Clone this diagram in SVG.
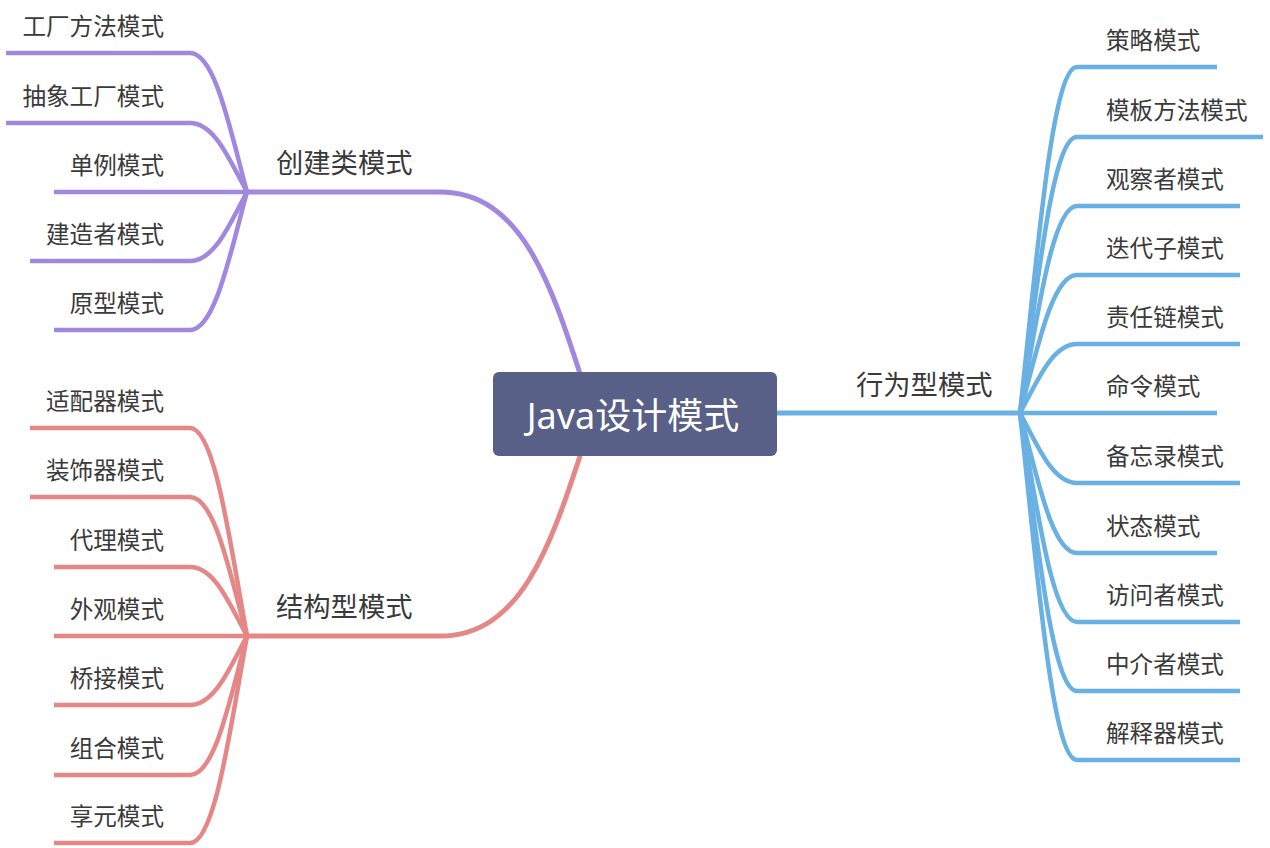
<svg xmlns="http://www.w3.org/2000/svg" width="1270" height="848" viewBox="0 0 1270 848">
<style>
.t{font-family:"Noto Sans CJK SC","Noto Sans",sans-serif;fill:#3a3a3a;font-size:23.6px}
.b{font-family:"Noto Sans CJK SC","Noto Sans",sans-serif;fill:#3a3a3a;font-size:27.3px}
.c{font-family:"Noto Sans","Noto Sans CJK SC",sans-serif;fill:#fff;font-size:36px}
.l{fill:none;stroke-width:4.5;stroke-linecap:butt}
.p{stroke:#a287e0}.r{stroke:#e58787}.u{stroke:#69b0e3}
.e{text-anchor:end}
</style>
<g id="connectors">
<path class="l p" style="stroke-width:5" d="M582 380 C550 280 520 192 440 192 L247 192"/>
<path class="l r" style="stroke-width:5" d="M582 450 C550 548 520 636 440 636 L247 636"/>
<path class="l u" style="stroke-width:5" d="M770 413 L1020 413"/>
<path class="l p" d="M247 192 C230 129 215 53 190 53 L6 53"/>
<path class="l p" d="M247 192 C230 161 215 123 190 123 L6 123"/>
<path class="l p" d="M247 192 L54 192"/>
<path class="l p" d="M247 192 C230 223 215 261 190 261 L30 261"/>
<path class="l p" d="M247 192 C230 254 215 330 190 330 L54 330"/>
<path class="l r" d="M247 636 C230 543 215 428 190 428 L30 428"/>
<path class="l r" d="M247 636 C230 574 215 497 190 497 L30 497"/>
<path class="l r" d="M247 636 C230 605 215 567 190 567 L54 567"/>
<path class="l r" d="M247 636 L54 636"/>
<path class="l r" d="M247 636 C230 667 215 705 190 705 L54 705"/>
<path class="l r" d="M247 636 C230 699 215 775 190 775 L54 775"/>
<path class="l r" d="M247 636 C230 730 215 843 190 843 L54 843"/>
<path class="l u" d="M1020 413 C1037 257 1052 67 1077 67 L1217 67"/>
<path class="l u" d="M1020 413 C1037 288 1052 137 1077 137 L1263 137"/>
<path class="l u" d="M1020 413 C1037 319 1052 206 1077 206 L1240 206"/>
<path class="l u" d="M1020 413 C1037 350 1052 275 1077 275 L1240 275"/>
<path class="l u" d="M1020 413 C1037 382 1052 344 1077 344 L1240 344"/>
<path class="l u" d="M1020 413 L1217 413"/>
<path class="l u" d="M1020 413 C1037 444 1052 483 1077 483 L1240 483"/>
<path class="l u" d="M1020 413 C1037 476 1052 553 1077 553 L1217 553"/>
<path class="l u" d="M1020 413 C1037 506 1052 622 1077 622 L1240 622"/>
<path class="l u" d="M1020 413 C1037 537 1052 691 1077 691 L1240 691"/>
<path class="l u" d="M1020 413 C1037 568 1052 760 1077 760 L1240 760"/>
</g>
<g id="root">
<rect x="493" y="372" width="284" height="84" rx="6" fill="#596087"/>
<text class="c" x="633" y="429" text-anchor="middle">Java设计模式</text>
</g>
<g id="creational"><text class="b" x="276" y="173">创建类模式</text></g>
<g id="structural"><text class="b" x="276" y="617">结构型模式</text></g>
<g id="behavioral"><text class="b" x="856" y="395">行为型模式</text></g>
<g id="n-factory-method"><text class="t e" x="164" y="35">工厂方法模式</text></g>
<g id="n-abstract-factory"><text class="t e" x="164" y="105">抽象工厂模式</text></g>
<g id="n-singleton"><text class="t e" x="164" y="174">单例模式</text></g>
<g id="n-builder"><text class="t e" x="164" y="243">建造者模式</text></g>
<g id="n-prototype"><text class="t e" x="164" y="312">原型模式</text></g>
<g id="n-adapter"><text class="t e" x="164" y="410">适配器模式</text></g>
<g id="n-decorator"><text class="t e" x="164" y="479">装饰器模式</text></g>
<g id="n-proxy"><text class="t e" x="164" y="549">代理模式</text></g>
<g id="n-facade"><text class="t e" x="164" y="618">外观模式</text></g>
<g id="n-bridge"><text class="t e" x="164" y="687">桥接模式</text></g>
<g id="n-composite"><text class="t e" x="164" y="757">组合模式</text></g>
<g id="n-flyweight"><text class="t e" x="164" y="825">享元模式</text></g>
<g id="n-strategy"><text class="t" x="1106" y="49">策略模式</text></g>
<g id="n-template"><text class="t" x="1106" y="119">模板方法模式</text></g>
<g id="n-observer"><text class="t" x="1106" y="188">观察者模式</text></g>
<g id="n-iterator"><text class="t" x="1106" y="257">迭代子模式</text></g>
<g id="n-chain"><text class="t" x="1106" y="326">责任链模式</text></g>
<g id="n-command"><text class="t" x="1106" y="395">命令模式</text></g>
<g id="n-memento"><text class="t" x="1106" y="465">备忘录模式</text></g>
<g id="n-state"><text class="t" x="1106" y="535">状态模式</text></g>
<g id="n-visitor"><text class="t" x="1106" y="604">访问者模式</text></g>
<g id="n-mediator"><text class="t" x="1106" y="673">中介者模式</text></g>
<g id="n-interpreter"><text class="t" x="1106" y="742">解释器模式</text></g>
</svg>
